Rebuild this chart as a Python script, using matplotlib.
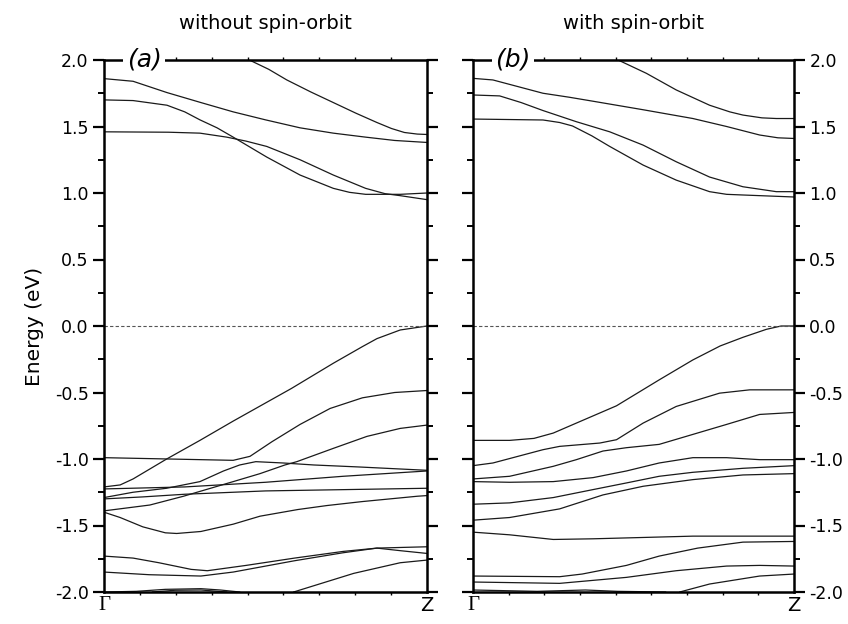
import numpy as np
import matplotlib
matplotlib.use("Agg")
from matplotlib import pyplot as plt
from matplotlib.ticker import MultipleLocator

plt.rcParams['font.family'] = ['DejaVu Sans']

# band data: (k fraction Gamma->Z, energy eV)
# (a) without spin-orbit
a_c1 = [(0.40, 2.06), (0.45, 2.0), (0.51, 1.93), (0.566, 1.85), (0.64, 1.76), (0.71, 1.68), (0.78, 1.60),
        (0.845, 1.53), (0.89, 1.485), (0.93, 1.455), (0.97, 1.443), (1.0, 1.44)]
a_c2 = [(0.0, 1.86), (0.09, 1.84), (0.195, 1.755), (0.30, 1.68), (0.40, 1.61), (0.50, 1.55), (0.607, 1.49),
        (0.71, 1.45), (0.81, 1.42), (0.90, 1.395), (1.0, 1.38)]
a_c3 = [(0.0, 1.70), (0.09, 1.695), (0.195, 1.66), (0.25, 1.61), (0.297, 1.55), (0.35, 1.49), (0.40, 1.42),
        (0.504, 1.27), (0.607, 1.135), (0.71, 1.035), (0.76, 1.005), (0.81, 0.99), (0.917, 0.99), (1.0, 1.00)]
a_c4 = [(0.0, 1.46), (0.20, 1.457), (0.297, 1.45), (0.38, 1.42), (0.44, 1.39), (0.504, 1.35), (0.607, 1.25),
        (0.71, 1.135), (0.81, 1.035), (0.87, 0.995), (0.917, 0.98), (1.0, 0.95)]

a_v1 = [(0.0, -1.21), (0.05, -1.195), (0.09, -1.15), (0.194, -1.0), (0.297, -0.86), (0.40, -0.715),
        (0.58, -0.47), (0.71, -0.28), (0.80, -0.155), (0.845, -0.095), (0.917, -0.03), (1.0, 0.0)]
a_v2 = [(0.0, -0.99), (0.2, -1.0), (0.40, -1.01), (0.452, -0.98), (0.52, -0.87), (0.607, -0.74),
        (0.70, -0.62), (0.80, -0.54), (0.90, -0.50), (1.0, -0.485)]
a_v3 = [(0.0, -1.29), (0.09, -1.25), (0.194, -1.22), (0.297, -1.17), (0.37, -1.09), (0.42, -1.045),
        (0.47, -1.02), (0.555, -1.03), (0.65, -1.045), (0.79, -1.06), (1.0, -1.085)]
a_v4 = [(0.0, -1.39), (0.142, -1.346), (0.246, -1.28), (0.40, -1.17), (0.483, -1.11), (0.56, -1.045),
        (0.597, -1.02), (0.71, -0.92), (0.814, -0.83), (0.917, -0.77), (1.0, -0.745)]
a_v5 = [(0.0, -1.225), (0.25, -1.21), (0.5, -1.175), (0.74, -1.13), (1.0, -1.09)]
a_v6 = [(0.0, -1.30), (0.12, -1.285), (0.25, -1.265), (0.5, -1.24), (0.75, -1.23), (1.0, -1.22)]
a_v7 = [(0.0, -1.40), (0.05, -1.44), (0.12, -1.51), (0.19, -1.555), (0.225, -1.56), (0.30, -1.545),
        (0.40, -1.49), (0.483, -1.43), (0.60, -1.38), (0.69, -1.35), (0.80, -1.32), (0.97, -1.28), (1.0, -1.275)]
a_v8 = [(0.0, -1.73), (0.09, -1.745), (0.17, -1.78), (0.27, -1.83), (0.32, -1.84), (0.44, -1.80),
        (0.59, -1.745), (0.74, -1.695), (0.845, -1.67), (0.92, -1.69), (1.0, -1.71)]
a_v9 = [(0.0, -1.85), (0.14, -1.87), (0.30, -1.88), (0.40, -1.85), (0.59, -1.765), (0.74, -1.705),
        (0.845, -1.67), (0.92, -1.665), (1.0, -1.66)]
a_v10 = [(0.587, -2.0), (0.773, -1.86), (0.917, -1.78), (1.0, -1.76)]
a_v11 = [(0.0, -2.0), (0.1, -1.995), (0.19, -1.98), (0.30, -1.975), (0.36, -1.985), (0.42, -2.0)]
a_v12 = [(0.15, -2.0), (0.22, -1.987), (0.30, -1.985), (0.38, -2.0)]

# (b) with spin-orbit
b_c1 = [(0.40, 2.08), (0.452, 2.0), (0.54, 1.90), (0.633, 1.775), (0.737, 1.66), (0.80, 1.61), (0.841, 1.586),
        (0.90, 1.565), (0.945, 1.56), (1.0, 1.56)]
b_c2 = [(0.0, 1.862), (0.062, 1.85), (0.14, 1.80), (0.218, 1.75), (0.30, 1.72), (0.374, 1.69), (0.53, 1.626),
        (0.685, 1.56), (0.79, 1.50), (0.893, 1.436), (0.95, 1.415), (1.0, 1.41)]
b_c3 = [(0.0, 1.737), (0.083, 1.73), (0.15, 1.68), (0.218, 1.62), (0.322, 1.536), (0.426, 1.46), (0.53, 1.36),
        (0.633, 1.235), (0.737, 1.12), (0.841, 1.047), (0.945, 1.01), (1.0, 1.01)]
b_c4 = [(0.0, 1.556), (0.218, 1.549), (0.27, 1.53), (0.31, 1.504), (0.37, 1.43), (0.426, 1.35), (0.53, 1.21),
        (0.633, 1.097), (0.737, 1.01), (0.79, 0.99), (0.841, 0.985), (1.0, 0.97)]

b_v1 = [(0.0, -0.86), (0.114, -0.86), (0.19, -0.845), (0.25, -0.805), (0.322, -0.73), (0.447, -0.60),
        (0.58, -0.405), (0.685, -0.255), (0.77, -0.15), (0.841, -0.085), (0.914, -0.025), (0.96, 0.0), (1.0, 0.0)]
b_v2 = [(0.0, -1.05), (0.062, -1.03), (0.14, -0.98), (0.218, -0.93), (0.27, -0.905), (0.395, -0.88),
        (0.447, -0.855), (0.53, -0.73), (0.633, -0.605), (0.768, -0.505), (0.862, -0.48), (1.0, -0.48)]
b_v3 = [(0.0, -1.15), (0.114, -1.13), (0.25, -1.055), (0.322, -1.005), (0.405, -0.94), (0.478, -0.915),
        (0.58, -0.89), (0.685, -0.815), (0.79, -0.74), (0.893, -0.665), (1.0, -0.65)]
b_v4 = [(0.0, -1.17), (0.114, -1.175), (0.25, -1.17), (0.374, -1.14), (0.478, -1.09), (0.58, -1.03),
        (0.685, -0.99), (0.79, -0.99), (0.893, -1.005), (1.0, -1.005)]
b_v5 = [(0.0, -1.34), (0.114, -1.33), (0.25, -1.29), (0.374, -1.23), (0.478, -1.18), (0.58, -1.13),
        (0.685, -1.10), (0.841, -1.07), (1.0, -1.05)]
b_v6 = [(0.0, -1.46), (0.114, -1.44), (0.27, -1.375), (0.405, -1.27), (0.53, -1.205), (0.685, -1.155),
        (0.841, -1.12), (1.0, -1.11)]
b_v7 = [(0.0, -1.55), (0.114, -1.57), (0.25, -1.605), (0.374, -1.60), (0.53, -1.59), (0.685, -1.58),
        (1.0, -1.58)]
b_v8 = [(0.0, -1.88), (0.27, -1.885), (0.34, -1.865), (0.478, -1.80), (0.58, -1.73), (0.70, -1.67),
        (0.841, -1.625), (1.0, -1.62)]
b_v9 = [(0.0, -1.925), (0.27, -1.935), (0.478, -1.89), (0.633, -1.84), (0.79, -1.805), (0.893, -1.80),
        (1.0, -1.805)]
b_v10 = [(0.644, -2.0), (0.737, -1.94), (0.893, -1.88), (1.0, -1.865)]
b_v11 = [(0.0, -1.985), (0.2, -1.995), (0.35, -1.985), (0.45, -1.995), (0.6, -2.0)]

bands_a = [a_c1, a_c2, a_c3, a_c4, a_v1, a_v2, a_v3, a_v4, a_v5, a_v6, a_v7, a_v8, a_v9, a_v10, a_v11, a_v12]
bands_b = [b_c1, b_c2, b_c3, b_c4, b_v1, b_v2, b_v3, b_v4, b_v5, b_v6, b_v7, b_v8, b_v9, b_v10, b_v11]

titles = ["without spin-orbit", "with spin-orbit"]
tags = ["(a)", "(b)"]
kpoint_labels = ["\u0393", "Z"]

fig = plt.figure(figsize=(8.48, 6.24), dpi=100)
ax1 = fig.add_axes([104/848, 1-592/624, 323/848, 532/624])
ax2 = fig.add_axes([473/848, 1-592/624, 321/848, 532/624])

for i, (ax, bands) in enumerate([(ax1, bands_a), (ax2, bands_b)]):
    for b in bands:
        k = [p[0] for p in b]
        e = [p[1] for p in b]
        ax.plot(k, e, color='#1a1a1a', lw=0.9)
    ax.axhline(0.0, color='#555555', lw=0.8, ls=(0, (3, 2)))
    ax.set_xlim(0, 1)
    ax.set_ylim(-2.0, 2.0)
    for s in ax.spines.values():
        s.set_linewidth(1.8)
    ax.yaxis.set_major_locator(MultipleLocator(0.5))
    ax.yaxis.set_minor_locator(MultipleLocator(0.25))
    ax.set_xticks([0, 1])
    ax.set_xticklabels([])
    ax.set_xticks(np.arange(1, 9) / 9, minor=True)
    ax.tick_params(axis='y', which='major', direction='out', length=8, width=1.6,
                   left=True, right=True, labelsize=12.5, pad=3)
    ax.tick_params(axis='y', which='minor', direction='out', length=4.5, width=1.4,
                   left=True, right=True)
    ax.tick_params(axis='x', which='major', length=0)
    ax.tick_params(axis='x', which='minor', direction='out', length=2, width=1,
                   top=True, bottom=True)
    ax.yaxis.set_major_formatter(matplotlib.ticker.FormatStrFormatter('%.1f'))
    ax.set_title(titles[i], fontsize=14, pad=22)
    ax.text(0.125, 1.0, tags[i], transform=ax.transAxes, fontsize=18, style='italic',
            ha='center', va='center', zorder=5,
            bbox=dict(facecolor='white', edgecolor='none', pad=2.5), clip_on=False)
    ax.text(0.0, -0.008, kpoint_labels[0], transform=ax.transAxes, ha='center', va='top',
            fontsize=15, family='Liberation Serif')
    ax.text(1.0, -0.008, kpoint_labels[1], transform=ax.transAxes, ha='center', va='top',
            fontsize=14)

ax1.tick_params(axis='y', labelleft=True, labelright=False)
ax2.tick_params(axis='y', labelleft=False, labelright=True)
ax1.set_ylabel("Energy (eV)", fontsize=14.5, labelpad=8)

fig.savefig("out.png", dpi=100)
